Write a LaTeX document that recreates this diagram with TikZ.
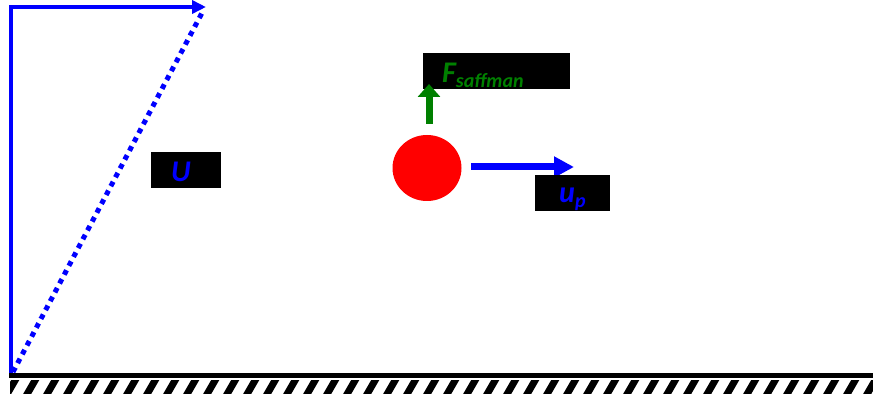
\documentclass[tikz,border=0pt]{standalone}
\usepackage{fontspec}
\setmainfont{Carlito}
\usetikzlibrary{arrows.meta,shapes.geometric}
\definecolor{pblue}{RGB}{0,0,255}
\definecolor{pgreen}{RGB}{0,128,0}
\definecolor{pred}{RGB}{255,0,0}
\tikzset{
  blackbox/.style={fill=black, draw=none, inner sep=0pt},
  lbl/.style={anchor=base west, inner sep=0pt, font=\bfseries\itshape\fontsize{30}{32}\selectfont}
}
\newcommand{\subtxt}[1]{{\fontsize{20}{22}\selectfont\raisebox{-5pt}{#1}}}
\begin{document}
\begin{tikzpicture}[x=1pt,y=-1pt]
\useasboundingbox (0,0) rectangle (873,398);
% velocity profile
\coordinate (wall) at (11,377);
\coordinate (top) at (11,5);
\coordinate (tip) at (206,7);
\coordinate (base) at (13,372);
\draw[pblue, line width=4.5pt] (wall) -- (top);
\draw[pblue, line width=4pt, -{Triangle[length=14pt,width=13pt]}] (9,7) -- (tip);
\draw[pblue, line width=5pt, dash pattern=on 5pt off 5pt] (base) -- (203,11);
% U label
\node[blackbox, minimum width=70pt, minimum height=36pt, anchor=north west] (ubox) at (151,152) {};
\node[lbl, text=pblue] (ulbl) at (171,182) {U};
% particle
\node[ellipse, fill=pred, draw=none, minimum width=69pt, minimum height=66pt, inner sep=0pt] (part) at (427,168) {};
% F saffman
\node[blackbox, minimum width=147pt, minimum height=36pt, anchor=north west] (fbox) at (423,53) {};
\coordinate (fstart) at (429,124);
\coordinate (fend) at (429,84);
\draw[pgreen, line width=7pt, -{Triangle[length=13pt,width=22pt]}] (fstart) -- (fend);
\node[lbl, text=pgreen] (flbl) at (442,83) {F\subtxt{saffman}};
% u_p
\coordinate (ustart) at (471,167);
\coordinate (uend) at (574,167);
\draw[pblue, line width=7pt, -{Triangle[length=20pt,width=20pt]}] (ustart) -- (uend);
\node[blackbox, minimum width=75pt, minimum height=36pt, anchor=north west] (upbox) at (535,175) {};
\node[lbl, text=pblue] (uplbl) at (559,203) {u\subtxt{p}};
% ground
\coordinate (g1) at (9,375.5);
\coordinate (g2) at (873,375.5);
\draw[black, line width=5pt] (g1) -- (g2);
\begin{scope}
\clip (10,380) rectangle (873,393);
\foreach \x in {0,20,...,900} {
  \draw[black, line width=7pt] (\x+6,396) -- (\x+17,377);
}
\end{scope}
\end{tikzpicture}
\end{document}
